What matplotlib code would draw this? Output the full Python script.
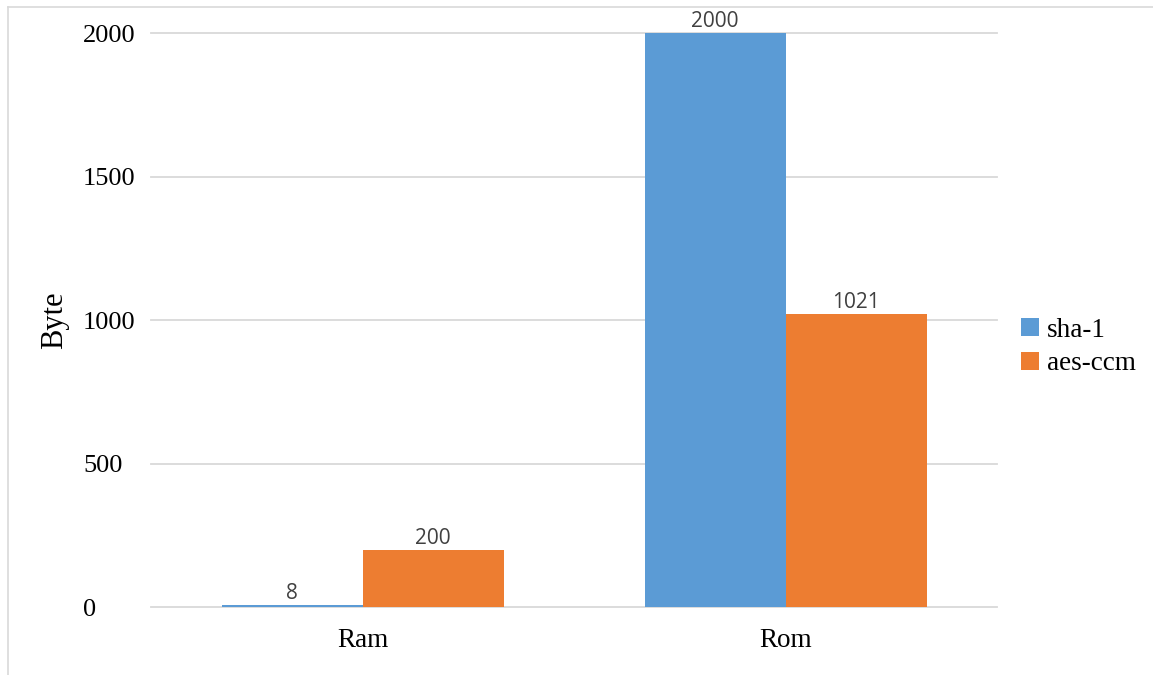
import matplotlib
matplotlib.use("Agg")
import matplotlib.pyplot as plt
from matplotlib.lines import Line2D
import numpy as np

# Memory footprint per algorithm
categories = ["Ram", "Rom"]
series_names = ["sha-1", "aes-ccm"]
sha1_values = [8, 2000]
aesccm_values = [200, 1021]
y_ticks = [0, 500, 1000, 1500, 2000]

colors = ["#5B9BD5", "#ED7D31"]
serif = ["Liberation Serif", "DejaVu Serif"]

fig = plt.figure(figsize=(11.53, 6.75), dpi=100)
ax = fig.add_axes([151 / 1153, 1 - 607 / 675, 846 / 1153, (607 - 33) / 675])

x = np.arange(len(categories))
width = 1 / 3
series = [sha1_values, aesccm_values]
for i, (name, vals) in enumerate(zip(series_names, series)):
    offs = (i - 0.5) * width
    bars = ax.bar(x + offs, vals, width, color=colors[i], label=name, zorder=3)
    for rect, v in zip(bars, vals):
        ax.annotate(str(v), (rect.get_x() + rect.get_width() / 2, v),
                    xytext=(0, 0.5), textcoords="offset points",
                    ha="center", va="bottom", fontsize=15,
                    family=["Open Sans", "DejaVu Sans"], color="#404040")

ax.set_xlim(-0.5, len(categories) - 0.5)
ax.set_ylim(0, 2000)
ax.set_yticks(y_ticks)
ax.set_yticklabels([str(t) for t in y_ticks], family=serif, fontsize=19)
for lab in ax.get_yticklabels():
    lab.set_horizontalalignment("left")
ax.tick_params(axis="y", length=0, pad=49, colors="#000000")
ax.set_xticks(x)
ax.set_xticklabels(categories, family=serif, fontsize=19.5)
ax.tick_params(axis="x", length=0, pad=15)

ax.yaxis.grid(True, color="#D9D9D9", linewidth=1.3, zorder=0)
for gl in ax.get_ygridlines():
    gl.set_clip_on(False)
ax.set_axisbelow(True)
for s in ax.spines.values():
    s.set_visible(False)

ax.set_ylabel("Byte", family=serif, fontsize=22)
ax.yaxis.set_label_coords((69 - 151) / 846, 0.5)

leg = fig.legend(loc="center left", bbox_to_anchor=(1021 / 1153, 1 - 347 / 675),
                 frameon=False, prop={"family": serif, "size": 19.5},
                 handlelength=0.65, handleheight=0.65, handletextpad=0.3,
                 labelspacing=0.3, borderpad=0, borderaxespad=0)

# Chart frame on the left and top edges
fig.add_artist(Line2D([8 / 1153, 8 / 1153], [0, 1 - 7 / 675], color="#D9D9D9",
                      linewidth=1.2, transform=fig.transFigure))
fig.add_artist(Line2D([8 / 1153, 1], [1 - 7 / 675, 1 - 7 / 675], color="#D9D9D9",
                      linewidth=1.2, transform=fig.transFigure))

fig.savefig("out.png", dpi=100)
